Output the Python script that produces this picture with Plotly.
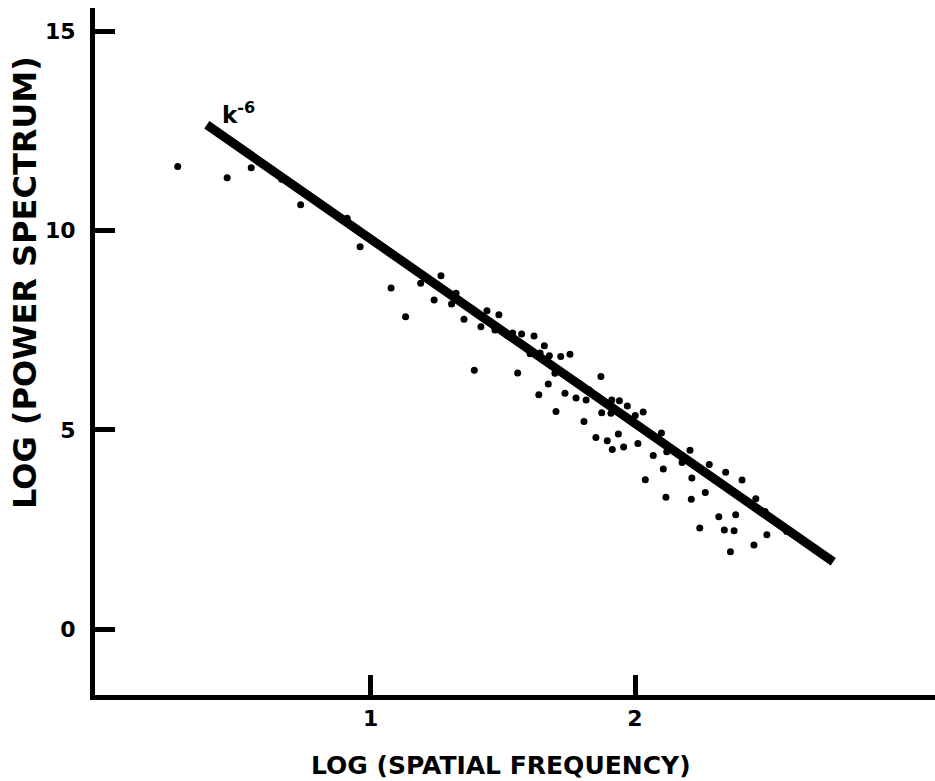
import plotly.graph_objects as go

# scatter data (log spatial frequency, log power spectrum)
freq = [0.270, 0.457, 0.548, 0.663, 0.735, 0.911, 0.960, 1.077, 1.132, 1.189,
        1.266, 1.240, 1.306, 1.323, 1.353, 1.392, 1.440, 1.485, 1.417, 1.470,
        1.515, 1.537, 1.571, 1.618, 1.556, 1.657, 1.603, 1.641, 1.676, 1.672,
        1.636, 1.719, 1.754, 1.697, 1.735, 1.701, 1.777, 1.815, 1.792, 1.827,
        1.871, 1.807, 1.874, 1.912, 1.941, 1.909, 1.971, 2.001, 2.031, 1.852,
        1.895, 1.937, 1.914, 1.957, 2.011, 2.100, 2.069, 2.120, 2.107, 2.039,
        2.117, 2.208, 2.178, 2.215, 2.213, 2.266, 2.281, 2.343, 2.315, 2.405,
        2.245, 2.317, 2.381, 2.338, 2.375, 2.361, 2.450, 2.499, 2.457, 2.492,
        2.574]
power = [11.61, 11.33, 11.58, 11.29, 10.65, 10.31, 9.60, 8.56, 7.84, 8.68,
         8.87, 8.26, 8.16, 8.43, 7.78, 6.50, 7.99, 7.89, 7.59, 7.51,
         7.38, 7.43, 7.41, 7.36, 6.43, 7.11, 6.91, 6.93, 6.86, 6.15,
         5.88, 6.84, 6.90, 6.42, 5.92, 5.46, 5.80, 5.75, 6.15, 6.00,
         6.34, 5.21, 5.43, 5.75, 5.73, 5.42, 5.60, 5.36, 5.45, 4.81,
         4.73, 4.90, 4.51, 4.57, 4.66, 4.92, 4.36, 4.45, 4.02, 3.75,
         3.31, 4.49, 4.18, 3.79, 3.26, 3.43, 4.13, 3.94, 3.72, 3.74,
         2.54, 2.82, 2.87, 2.49, 2.47, 1.94, 2.11, 2.37, 3.27, 2.95,
         2.45]

# fitted power-law line endpoints
fit_x = [0.38, 2.75]
fit_y = [12.66, 1.69]
fit_label = "k<sup>-6</sup>"
fit_label_pos = (0.50, 12.95)

x_ticks = [1, 2]
y_ticks = [0, 5, 10, 15]
x_title = "LOG (SPATIAL FREQUENCY)"
y_title = "LOG (POWER SPECTRUM)"

FONT = "DejaVu Sans"

fig = go.Figure()
fig.add_trace(go.Scatter(x=freq, y=power, mode="markers",
                         marker=dict(color="black", size=7), showlegend=False))
fig.add_trace(go.Scatter(x=fit_x, y=fit_y, mode="lines",
                         line=dict(color="black", width=9), showlegend=False))

fig.add_annotation(x=fit_label_pos[0], y=fit_label_pos[1], text=fit_label,
                   showarrow=False, font=dict(family=FONT, size=23, color="black", weight="bold"))
fig.add_annotation(x=0.4833, y=-0.1033, xref="paper", yref="paper", text=x_title,
                   xanchor="center", yanchor="middle", showarrow=False,
                   font=dict(family=FONT, size=25, color="black", weight="bold"))
fig.add_annotation(x=-0.0833, y=0.5997, xref="paper", yref="paper", text=y_title,
                   xanchor="center", yanchor="middle",
                   textangle=-90, showarrow=False,
                   font=dict(family=FONT, size=32, color="black", weight="bold"))

fig.update_xaxes(range=[-0.043, 3.135], tickvals=x_ticks, ticks="inside", ticklen=20,
                 tickwidth=5, tickcolor="black", showline=True, linewidth=5,
                 linecolor="black", showgrid=False, zeroline=False,
                 tickfont=dict(family=FONT, size=22, color="black", weight="bold"))
fig.update_yaxes(range=[-1.654, 15.59], tickvals=y_ticks, ticks="inside", ticklen=20,
                 tickwidth=5, tickcolor="black", showline=True, linewidth=5,
                 linecolor="black", showgrid=False, zeroline=False,
                 ticklabelstandoff=10,
                 tickfont=dict(family=FONT, size=22, color="black", weight="bold"))

fig.update_layout(width=935, height=781, margin=dict(l=95, r=0, t=8, b=86),
                  plot_bgcolor="white", paper_bgcolor="white")

fig.write_html("out.html", config={"displayModeBar": False},
               post_script="document.body.style.margin='0';")
